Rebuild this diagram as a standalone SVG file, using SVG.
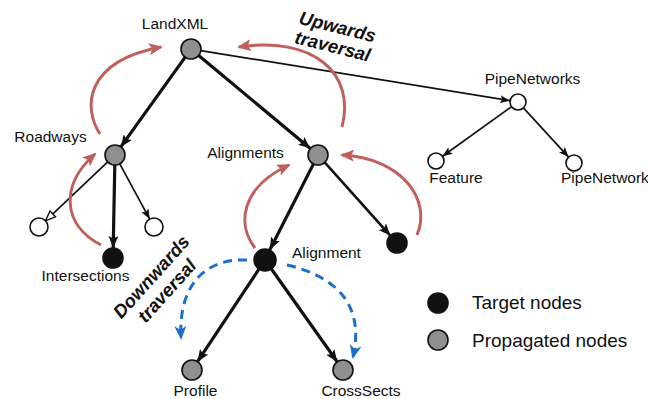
<svg xmlns="http://www.w3.org/2000/svg" width="648" height="399" viewBox="0 0 648 399">
  <style>
    .lbl { font-family: "Liberation Sans", Arial, sans-serif; font-size: 15.5px; fill: #111; }
    .leg { font-family: "Liberation Sans", Arial, sans-serif; font-size: 19px; fill: #111; }
    .note { font-family: "Liberation Sans", Arial, sans-serif; font-size: 18.5px; font-weight: bold; font-style: italic; fill: #111; }
    .node { stroke: #111; stroke-width: 1.6; }
    .prop { fill: #8f8f8f; }
    .target { fill: #111; }
    .plain { fill: #fff; }
    .thick { stroke: #111; stroke-width: 3.2; fill: none; marker-end: url(#arrowBig); }
    .thin { stroke: #111; stroke-width: 1.7; fill: none; marker-end: url(#arrowSmall); }
    .up { stroke: #c0605c; stroke-width: 3; fill: none; marker-end: url(#arrowRed); }
    .down { stroke: #1e6fcc; stroke-width: 3; fill: none; stroke-dasharray: 9 6; marker-end: url(#arrowBlue); }
  </style>
  <defs>
    <marker id="arrowBig" viewBox="0 0 12 10" refX="12" refY="5" markerWidth="12" markerHeight="10" markerUnits="userSpaceOnUse" orient="auto">
      <path d="M0,0 L12,5 L0,10 L2.5,5 Z" fill="#111"/>
    </marker>
    <marker id="arrowSmall" viewBox="0 0 10 8" refX="10" refY="4" markerWidth="10" markerHeight="8" markerUnits="userSpaceOnUse" orient="auto">
      <path d="M0,0 L10,4 L0,8 L2,4 Z" fill="#111"/>
    </marker>
    <marker id="arrowOpen" viewBox="0 0 12 10" refX="11" refY="5" markerWidth="12" markerHeight="10" markerUnits="userSpaceOnUse" orient="auto">
      <path d="M1,1 L11,5 L1,9 Z" fill="#fff" stroke="#111" stroke-width="1.4"/>
    </marker>
    <marker id="arrowRed" viewBox="0 0 14 12" refX="12" refY="6" markerWidth="14" markerHeight="12" markerUnits="userSpaceOnUse" orient="auto">
      <path d="M0,0 L14,6 L0,12 L3,6 Z" fill="#c0605c"/>
    </marker>
    <marker id="arrowBlue" viewBox="0 0 14 12" refX="12" refY="6" markerWidth="14" markerHeight="12" markerUnits="userSpaceOnUse" orient="auto">
      <path d="M0,0 L14,6 L0,12 L4,6 Z" fill="#1e6fcc"/>
    </marker>
  </defs>

  <!-- tree edges and traversal arcs -->
  <g id="connectors">
    <line class="thick" x1="185.2" y1="57.1" x2="120.8" y2="146.9"/>
    <line class="thick" x1="198.7" y1="55.4" x2="310.3" y2="148.6"/>
    <line class="thin" x1="200.9" y1="50.6" x2="510.1" y2="100.7"/>
    <line class="thin" x1="511.5" y1="106.7" x2="442.5" y2="156.3"/>
    <line class="thin" x1="523.4" y1="107.9" x2="568.6" y2="157.1"/>
    <line class="thin" x1="107.7" y1="161.9" x2="45.5" y2="220.8" style="marker-end:url(#arrowOpen)"/>
    <line class="thick" x1="114.8" y1="165" x2="113.2" y2="248"/>
    <line class="thin" x1="119.8" y1="163.8" x2="149.7" y2="219.1"/>
    <line class="thick" x1="313.5" y1="163.9" x2="270" y2="249.5"/>
    <line class="thick" x1="324.7" y1="162.4" x2="390.3" y2="235.6" style="stroke-width:2.6"/>
    <line class="thick" x1="258.9" y1="269.2" x2="197.5" y2="361.7"/>
    <line class="thick" x1="271.4" y1="269" x2="337.2" y2="361.8"/>

    <!-- upwards propagation -->
    <path class="up" d="M100,134 C84,110 82,62 161,47"/>
    <path class="up" d="M101,245 C62,225 60,185 95,154"/>
    <path class="up" d="M255,248 C237,225 240,188 289,165"/>
    <path class="up" d="M417,235 C432,200 402,158 342,155"/>
    <path class="up" d="M342,127 C356,72 312,36 239,47"/>

    <!-- downwards propagation -->
    <path class="down" d="M247,260 C210,258 178,280 181,338"/>
    <path class="down" d="M287,265 C330,275 366,300 353,357"/>
  </g>

  <g id="n-landxml">
    <circle class="node prop" cx="191" cy="49" r="10"/>
    <text class="lbl" x="175" y="29" text-anchor="middle">LandXML</text>
  </g>
  <g id="n-roadways">
    <circle class="node prop" cx="115" cy="155" r="10"/>
    <text class="lbl" x="50.5" y="142" text-anchor="middle">Roadways</text>
  </g>
  <g id="n-alignments">
    <circle class="node prop" cx="318" cy="155" r="10"/>
    <text class="lbl" x="245.5" y="158" text-anchor="middle">Alignments</text>
  </g>
  <g id="n-pipenetworks">
    <circle class="node plain" cx="518" cy="102" r="8"/>
    <text class="lbl" x="532.5" y="84" text-anchor="middle">PipeNetworks</text>
  </g>
  <g id="n-feature">
    <circle class="node plain" cx="436" cy="161" r="8"/>
    <text class="lbl" x="456" y="183" text-anchor="middle">Feature</text>
  </g>
  <g id="n-pipenetwork">
    <circle class="node plain" cx="574" cy="163" r="8"/>
    <text class="lbl" x="561" y="183">PipeNetwork</text>
  </g>
  <g id="n-road-left">
    <circle class="node plain" cx="39" cy="227" r="9"/>
  </g>
  <g id="n-road-right">
    <circle class="node plain" cx="154" cy="227" r="9"/>
  </g>
  <g id="n-intersections">
    <circle class="node target" cx="113" cy="258" r="10"/>
    <text class="lbl" x="85.5" y="281" text-anchor="middle">Intersections</text>
  </g>
  <g id="n-alignment">
    <circle class="node target" cx="265" cy="260" r="11"/>
    <text class="lbl" x="292" y="258">Alignment</text>
  </g>
  <g id="n-align-right">
    <circle class="node target" cx="397" cy="243" r="10"/>
  </g>
  <g id="n-profile">
    <circle class="node prop" cx="192" cy="370" r="10"/>
    <text class="lbl" x="195.5" y="396" text-anchor="middle">Profile</text>
  </g>
  <g id="n-crosssects">
    <circle class="node prop" cx="343" cy="370" r="10"/>
    <text class="lbl" x="361" y="396" text-anchor="middle">CrossSects</text>
  </g>

  <!-- traversal captions -->
  <g id="caption-up">
    <text class="note" transform="translate(336,33) rotate(14)" text-anchor="middle">Upwards<tspan x="0" dy="20">traversal</tspan></text>
  </g>
  <g id="caption-down">
    <text class="note" transform="translate(156,281) rotate(-48)" text-anchor="middle">Downwards<tspan x="0" dy="21">traversal</tspan></text>
  </g>

  <!-- legend -->
  <g id="legend">
    <circle class="node target" cx="438" cy="303" r="10"/>
    <text class="leg" x="472" y="309">Target nodes</text>
    <circle class="node prop" cx="438" cy="340" r="10"/>
    <text class="leg" x="472" y="347">Propagated nodes</text>
  </g>
</svg>
